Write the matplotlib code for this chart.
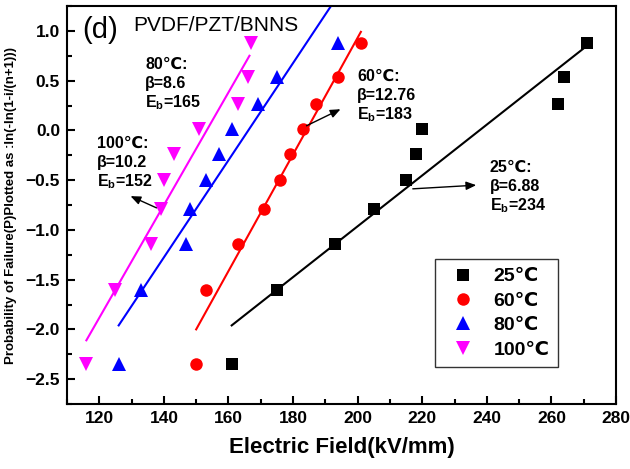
import matplotlib
matplotlib.use("Agg")
import matplotlib.pyplot as plt
from matplotlib.ticker import MultipleLocator

plt.rcParams['font.family'] = ['Liberation Sans', 'DejaVu Sans']
plt.rcParams['mathtext.fontset'] = 'custom'
plt.rcParams['mathtext.rm'] = 'Liberation Sans:bold'
plt.rcParams['mathtext.bf'] = 'Liberation Sans:bold'
plt.rcParams['mathtext.it'] = 'Liberation Sans:bold'
plt.rcParams['mathtext.default'] = 'bf'

# Weibull probability values (y)
prob = [-2.35, -1.606, -1.144, -0.794, -0.501, -0.238, 0.0115, 0.262, 0.533, 0.875]

# Electric field values (x) for each temperature
e_25 = [161, 175, 193, 205, 215, 218, 220, 262, 264, 271]
e_60 = [150, 153, 163, 171, 176, 179, 183, 187, 194, 201]
e_80 = [126, 133, 147, 148, 153, 157, 161, 169, 175, 194]
e_100 = [116, 125, 136, 139, 140, 143, 151, 163, 166, 167]

labels = ['25℃', '60℃', '80℃', '100℃']

# fitted line endpoints (x0, x1, y0, y1)
fit_x0 = [161, 150, 126, 116]
fit_x1 = [271, 201, 194, 166.5]
fit_y0 = [-1.96, -2.00, -1.96, -2.11]
fit_y1 = [0.85, 0.99, 1.36, 0.75]

colors = ['black', 'red', 'blue', 'magenta']
markers = ['s', 'o', '^', 'v']
msizes = [8, 9, 9.5, 9.5]
series = [e_25, e_60, e_80, e_100]

fig = plt.figure(figsize=(6.3, 4.69), dpi=100)
ax = fig.add_axes([67/630, 1-404/469, (616-67)/630, (404-6)/469])

for i in range(4):
    ax.plot([fit_x0[i], fit_x1[i]], [fit_y0[i], fit_y1[i]], color=colors[i], lw=1.5, zorder=2)
for i in range(4):
    ax.plot(series[i], prob, linestyle='none', marker=markers[i], color=colors[i],
            markersize=msizes[i], markeredgewidth=0, label=labels[i], zorder=3)

ax.set_xlim(110, 280)
ax.set_ylim(-2.75, 1.25)
ax.xaxis.set_major_locator(MultipleLocator(20))
ax.xaxis.set_minor_locator(MultipleLocator(10))
ax.yaxis.set_major_locator(MultipleLocator(0.5))
ax.yaxis.set_minor_locator(MultipleLocator(0.25))
ax.tick_params(which='both', direction='in', top=False, right=False, width=1.5)
ax.tick_params(which='major', length=6, labelsize=12.5, pad=5)
ax.tick_params(which='minor', length=3.5)
for lab in ax.get_xticklabels() + ax.get_yticklabels():
    lab.set_fontweight('bold')
for s in ax.spines.values():
    s.set_linewidth(1.5)

ax.set_xlabel('Electric Field(kV/mm)', fontsize=16, fontweight='bold', labelpad=8)
ax.set_ylabel('Probability of Failure(P)Plotted as :ln(-ln(1-i/(n+1)))', fontsize=9.5,
              fontweight='bold', labelpad=6)

ax.text(0.027, 0.94, '(d)', transform=ax.transAxes, fontsize=21, va='center', ha='left')
ax.text(0.12, 0.95, 'PVDF/PZT/BNNS', transform=ax.transAxes, fontsize=15, va='center', ha='left')

fs = 11.5
def block(x, y, lines):
    for k, t in enumerate(lines):
        fig.text(x/630, 1-(y+k*19.5)/469, t, fontsize=fs, fontweight='bold', va='center', ha='left')

block(145, 64, ['80℃:', 'β=8.6', 'E$_b$=165'])
block(97, 143, ['100℃:', 'β=10.2', 'E$_b$=152'])
block(357, 76, ['60℃:', 'β=12.76', 'E$_b$=183'])
block(490, 167, ['25℃:', 'β=6.88', 'E$_b$=234'])

def arrow(x0, y0, x1, y1):
    fig.add_artist(matplotlib.patches.FancyArrowPatch(
        (x0/630, 1-y0/469), (x1/630, 1-y1/469), transform=fig.transFigure,
        arrowstyle='-|>,head_length=6,head_width=2.5', color='black', lw=1))

arrow(159, 209, 128, 195)
arrow(304, 127, 343, 108)
arrow(410, 189, 479, 185)

leg = ax.legend(loc='upper left', bbox_to_anchor=((435-67)/549, 1-(259-6)/398),
                borderaxespad=0, frameon=True, fancybox=False, edgecolor='black',
                prop={'weight': 'bold', 'size': 14}, handletextpad=0.55,
                borderpad=0.45, labelspacing=0.35, handlelength=2.0)
leg.get_frame().set_linewidth(1)

fig.savefig('out.png', dpi=100)
